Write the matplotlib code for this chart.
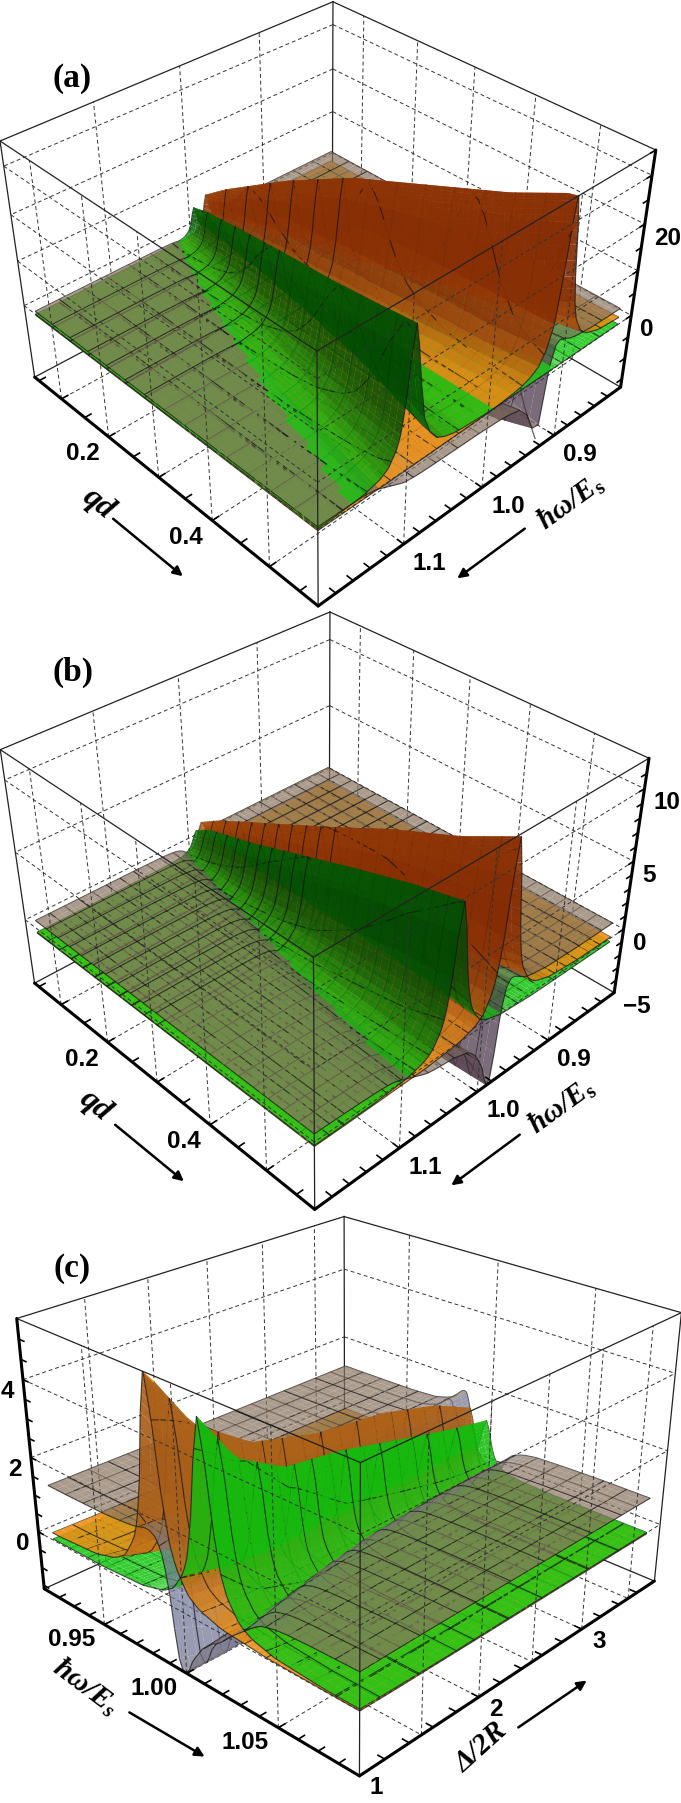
import numpy as np
import matplotlib
matplotlib.use('Agg')
import matplotlib.pyplot as plt
from matplotlib.patches import FancyArrowPatch
from mpl_toolkits.mplot3d import proj3d
from mpl_toolkits.mplot3d.art3d import Poly3DCollection

W, H = 681, 1803
plt.rcParams['mathtext.fontset'] = 'custom'
plt.rcParams['mathtext.it'] = 'Liberation Serif:italic:bold'
plt.rcParams['mathtext.rm'] = 'Liberation Serif:bold'

# line shape read across a ridge, offset in widths
offsets = [-40, -20, -10, -6, -4, -3, -2, -1.5, -1, -0.5, 0, 0.5, 1, 1.5, 2, 3, 4, 6, 10, 20, 40]
peak = [.001, .003, .01, .027, .06, .1, .2, .3, .5, .8, 1, .8, .5, .3, .2, .1, .06, .027, .01, .003, .001]
dip = [0, .002, .01, .03, .07, .11, .2, .26, .3, .25, 0, -.6, -1, -.75, -.5, -.25, -.12, -.05, -.02, -.005, 0]
step = [0, 0, 0, .01, .03, .06, .12, .2, .3, .4, .5, .6, .7, .8, .88, .94, .97, .99, 1, 1, 1]

# panel a
qd_a = [0.04, 0.1, 0.2, 0.3, 0.4, 0.5, 0.58]
up_a = [1.005, 1.012, 1.027, 1.043, 1.06, 1.08, 1.095]
lo_a = [0.995, 0.988, 0.975, 0.96, 0.94, 0.92, 0.905]
width_a = [.004, .005, .007, .008, .009, .009, .009]
green_a = [5, 8, 12, 16, 20, 25, 29]
orange_a = [5, 10.5, 18, 24, 27.5, 31, 35]
dip_a = [2, 4, 7, 9, 11, 13, 14]
dipat_a = [.998, .99, .98, .965, .95, .935, .92]
edge_a = [1.01, 1.03, 1.055, 1.075, 1.095, 1.11, 1.12]

# panel b
qd_b = [0.04, 0.1, 0.2, 0.3, 0.4, 0.5, 0.58]
up_b = [1.002, 1.006, 1.012, 1.018, 1.024, 1.03, 1.035]
lo_b = [0.998, 0.995, 0.99, 0.985, 0.98, 0.975, 0.97]
width_b = [.006, .007, .008, .009, .01, .01, .01]
green_b = [1.0, 2.5, 4, 5.7, 7.4, 9, 10.1]
orange_b = [1.3, 2.8, 4.7, 6.6, 8.6, 10.3, 12]
dip_b = [.6, 1, 2, 3, 4, 4.8, 5.5]
dipat_b = [.998, .996, .992, .988, .984, .98, .976]
edge_b = [1.01, 1.02, 1.035, 1.05, 1.065, 1.08, 1.09]

# panel c
delta_c = [1, 1.3, 1.7, 2.2, 2.8, 3.3, 3.8]
up_c = [1.013, 1.011, 1.009, 1.007, 1.006, 1.005, 1.005]
lo_c = [.985, .988, .991, .993, .994, .995, .996]
width_c = [.006, .005, .004, .0035, .0035, .0035, .0035]
green_c = [5.0, 3.6, 2.8, 2.5, 2.0, 1.6, 1.3]
orange_c = [5.5, 3.9, 3, 2.6, 2.4, 2, 1.3]
dip_c = [2.2, 2.2, 2, 2, 2.4, 3, 3.6]
dipat_c = [.992, .993, .994, .995, .996, .997, .997]
edge_c = [1.03, 1.026, 1.022, 1.018, 1.015, 1.013, 1.012]

panels = [
    dict(name='(a)', namepos=(72, 78), s=qd_a, up=up_a, lo=lo_a, width=width_a, green=green_a, orange=orange_a,
         dip=dip_a, dipat=dipat_a, edge=edge_a, wlim=(0.8, 1.2), slim=(0.04, 0.58), zlim=(-17, 35),
         wdom=(.82, 1.2), sdom=(.065, .58), levels=(0, 1.2, -.2, 3.5, -3, 0.7), mesh=(15, 15),
         view=(35.679, 46.440, -0.868, 0.003, -0.409, 6.498, 317.404, 279.421),
         wticks=[.9, 1.0, 1.1], wlabels=['0.9', '1.0', '1.1'], wgrid=[.9, 1.0, 1.1], wminor=np.arange(.82, 1.2, .02),
         sticks=[.2, .4], slabels=['0.2', '0.4'], sgrid=[.1, .2, .3, .4, .5], sminor=np.arange(.05, .58, .05),
         zticks=[0, 20], zlabels=['0', '20'], zgrid=[0, 10, 20, 30], zminor=np.arange(-15, 36, 5),
         dark=((.48, .13, .01), (0, .22, 0), (.24, .16, .26))),
    dict(name='(b)', namepos=(73, 672), s=qd_b, up=up_b, lo=lo_b, width=width_b, green=green_b, orange=orange_b,
         dip=dip_b, dipat=dipat_b, edge=edge_b, wlim=(0.8, 1.2), slim=(0.04, 0.58), zlim=(-5, 12),
         wdom=(.82, 1.2), sdom=(.065, .58), levels=(-.3, 0, -.35, 1.1, -.7, .6), mesh=(22, 24),
         view=(35.643, 46.440, -0.871, 0.001, -0.411, 6.487, 314.298, 886.355),
         wticks=[.9, 1.0, 1.1], wlabels=['0.9', '1.0', '1.1'], wgrid=[.9, 1.0, 1.1], wminor=np.arange(.82, 1.2, .02),
         sticks=[.2, .4], slabels=['0.2', '0.4'], sgrid=[.1, .2, .3, .4, .5], sminor=np.arange(.05, .58, .05),
         zticks=[-5, 0, 5, 10], zlabels=['\u22125', '0', '5', '10'], zgrid=[0, 5, 10], zminor=np.arange(-5, 12, 1),
         dark=((.48, .13, .01), (0, .22, 0), (.24, .16, .26))),
    dict(name='(c)', namepos=(72, 1269), s=delta_c, up=up_c, lo=lo_c, width=width_c, green=green_c, orange=orange_c,
         dip=dip_c, dipat=dipat_c, edge=edge_c, wlim=(0.91, 1.09), slim=(1, 3.8), zlim=(-1.6, 5.5),
         wdom=(.92, 1.09), sdom=(1, 3.65), levels=(0, .15, -.03, 1.45, -.3, .95), mesh=(18, 16),
         view=(26.003, -46.382, -0.879, 0.001, -0.408, 6.526, 341.450, 1465.227),
         wticks=[.95, 1.0, 1.05], wlabels=['0.95', '1.00', '1.05'], wgrid=[.95, 1.0, 1.05], wminor=np.arange(.92, 1.09, .01),
         sticks=[1, 2, 3], slabels=['1', '2', '3'], sgrid=[1.5, 2, 2.5, 3, 3.5], sminor=np.arange(1.2, 3.8, .2),
         zticks=[0, 2, 4], zlabels=['0', '2', '4'], zgrid=[0, 2, 4], zminor=np.arange(-1.5, 5.5, .5),
         dark=((.62, .34, .1), (.08, .72, .05), (.42, .46, .62))),
]


def corner_list(c):
    x0, x1 = c['wlim']
    y0, y1 = c['slim']
    z0, z1 = c['zlim']
    if c['name'] == '(c)':
        plan = [(x0, y0), (x1, y0), (x1, y1), (x0, y1)]
    else:
        plan = [(x1, y0), (x1, y1), (x0, y1), (x0, y0)]
    return [(x, y, z1) for x, y in plan] + [(x, y, z0) for x, y in plan]


def to_px(ax, x, y, z):
    u, v, _ = proj3d.proj_transform(x, y, z, ax.get_proj())
    a, b = ax.transData.transform((u, v))
    return a, H - b


def set_view(ax, p):
    ax.view_init(elev=p[0], azim=p[1])
    ax.set_proj_type('persp', focal_length=np.exp(p[2]))
    ax.set_box_aspect((1, np.exp(p[3]), np.exp(p[4])))
    s = np.exp(p[5])
    ax.set_position([(p[6] - s / 2) / W, (H - p[7] - s / 2) / H, s / W, s / H])
    ax.apply_aspect()


def warp_row(lo, up, wmin, wmax, n=(34, 24, 40)):
    lo = lo[..., None]
    up = up[..., None]
    a = np.linspace(0, 1, n[0]) ** 2.6
    b = (1 - np.cos(np.pi * np.linspace(0, 1, n[1]))) / 2
    d = np.linspace(0, 1, n[2]) ** 2.6
    left = lo - (lo - wmin) * a[::-1]
    mid = lo + (up - lo) * b[1:]
    right = up + (wmax - up) * d[1:]
    return np.concatenate([left, mid, right], axis=-1)


def surfaces(c, s, w):
    S = c['s']
    wid = np.interp(s, S, c['width'])
    xg = (w - np.interp(s, S, c['up'])) / wid
    xo = (w - np.interp(s, S, c['lo'])) / wid
    xd = (w - np.interp(s, S, c['dipat'])) / wid
    xe = (w - np.interp(s, S, c['edge'])) / wid
    gb, ol, oh, bl, bm, bh = c['levels']
    g = gb + np.interp(s, S, c['green']) * np.interp(xg, offsets, peak)
    o = ol + (oh - ol) * np.interp(xo, offsets, step) + np.interp(s, S, c['orange']) * np.interp(xo, offsets, peak)
    b = bl + (bm - bl) * np.interp(xd, offsets, step) + (bh - bm) * np.interp(xe, offsets, step)
    b = b + np.interp(s, S, c['dip']) * np.interp(xd, offsets, dip)
    z0, z1 = c['zlim']
    return [np.clip(v, z0, z1) for v in (o, g, b)]


base_rgb = ((.93, .57, .09), (.1, .78, .08), (.54, .46, .38))
alphas = (.92, .88, .72)


def draw_panel(fig, c):
    ax = fig.add_axes([0, 0, 1, 1], projection='3d')
    ax.set_axis_off()
    ax.computed_zorder = False
    ax.patch.set_alpha(0)
    wmin, wmax = c['wlim']
    smin, smax = c['slim']
    zmin, zmax = c['zlim']
    ax.set_xlim(wmin, wmax, view_margin=0)
    ax.set_ylim(smin, smax, view_margin=0)
    ax.set_zlim(zmin, zmax, view_margin=0)
    p = c['view']
    set_view(ax, p)

    # surfaces as cells, mesh lines as two point faces, all sorted together
    wa, wb = c['wdom']
    sa, sb = c['sdom']
    s_grid = np.linspace(sa, sb, 42)
    lo = np.interp(s_grid, c['s'], c['lo'])
    up = np.interp(s_grid, c['s'], c['up'])
    w_grid = warp_row(lo, up, wa, wb)
    s2 = np.repeat(s_grid[:, None], w_grid.shape[1], axis=1)
    zs = surfaces(c, s2, w_grid)
    verts, face, edge = [], [], []
    ar_z = np.exp(p[4]) / (zmax - zmin)
    ar_w = 1 / (wmax - wmin)
    for z, base, dark, a in zip(zs, base_rgb, c['dark'], alphas):
        dw = w_grid[:, 1:] - w_grid[:, :-1]
        dz = z[:, 1:] - z[:, :-1]
        slope = np.abs(dz * ar_z / (dw * ar_w))[:-1]
        t = slope / (slope + 1.2)
        rgb = np.array(base) * (1 - t[..., None]) + np.array(dark) * t[..., None]
        q = np.stack([
            np.stack([w_grid[:-1, :-1], s2[:-1, :-1], z[:-1, :-1]], -1),
            np.stack([w_grid[:-1, 1:], s2[:-1, 1:], z[:-1, 1:]], -1),
            np.stack([w_grid[1:, 1:], s2[1:, 1:], z[1:, 1:]], -1),
            np.stack([w_grid[1:, :-1], s2[1:, :-1], z[1:, :-1]], -1)], axis=2)
        verts.extend(q.reshape(-1, 4, 3))
        fc = np.concatenate([rgb, np.full(rgb.shape[:2] + (1,), a)], axis=-1).reshape(-1, 4)
        face.extend(fc)
        edge.extend(np.zeros_like(fc))

    line_rgba = (.08, .08, .08, .75)
    none = (0, 0, 0, 0)
    for sv in np.linspace(sa, sb, c['mesh'][0]):
        row = warp_row(np.interp([sv], c['s'], c['lo']), np.interp([sv], c['s'], c['up']), wa, wb)[0]
        for z in surfaces(c, np.full_like(row, sv), row):
            pts = np.stack([row, np.full_like(row, sv), z], -1)
            verts.extend(np.stack([pts[:-1], pts[1:]], 1))
            face.extend([none] * (len(row) - 1))
            edge.extend([line_rgba] * (len(row) - 1))
    sline = np.linspace(sa, sb, 50)
    for wv in np.linspace(wa, wb, c['mesh'][1]):
        col = np.full_like(sline, wv)
        for z in surfaces(c, sline, col):
            pts = np.stack([col, sline, z], -1)
            verts.extend(np.stack([pts[:-1], pts[1:]], 1))
            face.extend([none] * (len(sline) - 1))
            edge.extend([line_rgba] * (len(sline) - 1))

    poly = Poly3DCollection(verts, facecolors=np.array(face), edgecolors=np.array(edge), linewidths=.8, zorder=2)
    poly.set_clip_on(False)
    ax.add_collection3d(poly, autolim=False)

    # dashed grids on the four walls and the floor
    dash = dict(color='#333333', lw=.7, ls=(0, (4, 3)), clip_on=False)
    cam_x = wmax
    cam_y = smax if c['name'] != '(c)' else smin
    far_x = wmin
    far_y = smin if c['name'] != '(c)' else smax
    for wv in c['wgrid']:
        ax.plot([wv, wv], [far_y, far_y], [zmin, zmax], zorder=1, **dash)
        ax.plot([wv, wv], [cam_y, cam_y], [zmin, zmax], zorder=3, **dash)
        ax.plot([wv, wv], [smin, smax], [zmin, zmin], zorder=1, **dash)
    for sv in c['sgrid']:
        ax.plot([far_x, far_x], [sv, sv], [zmin, zmax], zorder=1, **dash)
        ax.plot([cam_x, cam_x], [sv, sv], [zmin, zmax], zorder=3, **dash)
        ax.plot([wmin, wmax], [sv, sv], [zmin, zmin], zorder=1, **dash)
    for zv in c['zgrid']:
        ax.plot([wmin, wmax], [far_y, far_y], [zv, zv], zorder=1, **dash)
        ax.plot([far_x, far_x], [smin, smax], [zv, zv], zorder=1, **dash)
        ax.plot([wmin, wmax], [cam_y, cam_y], [zv, zv], zorder=3, **dash)
        ax.plot([cam_x, cam_x], [smin, smax], [zv, zv], zorder=3, **dash)

    # box
    pts = corner_list(c)
    thin = dict(color='#222222', lw=.9, clip_on=False)
    for i in range(4):
        j = (i + 1) % 4
        ax.plot(*zip(pts[i], pts[j]), zorder=3, **thin)
        ax.plot(*zip(pts[i + 4], pts[j + 4]), zorder=1, **thin)
        ax.plot(*zip(pts[i], pts[i + 4]), zorder=3 if i == 1 else 1, **thin)
    bold = dict(color='black', lw=2.2, clip_on=False, solid_capstyle='round')
    ax.plot(*zip(pts[4], pts[5]), zorder=4, **bold)
    ax.plot(*zip(pts[5], pts[6]), zorder=4, **bold)
    zi = 0 if c['name'] == '(c)' else 2
    ax.plot(*zip(pts[zi], pts[zi + 4]), zorder=4, **bold)

    # ticks
    tick = dict(color='black', lw=1.2, clip_on=False, zorder=4)
    wl, sl = (wmax - wmin) * .018, (smax - smin) * .018
    near_y = cam_y
    ysign = -1 if near_y == smax else 1
    for wv in c['wminor']:
        ax.plot([wv, wv], [near_y, near_y + ysign * sl], [zmin, zmin], **tick)
    for sv in c['sminor']:
        ax.plot([wmax, wmax - wl], [sv, sv], [zmin, zmin], **tick)
    zx, zy = (wmin, smin) if c['name'] == '(c)' else (wmin, smax)
    for zv in c['zminor']:
        ax.plot([zx, zx + wl], [zy, zy], [zv, zv], **tick)

    # tick labels
    tf = dict(family='Liberation Sans', weight='bold', fontsize=17.5, ha='center', va='center')
    for wv, txt in zip(c['wticks'], c['wlabels']):
        a, b = to_px(ax, wv, near_y, zmin)
        dx, dy = (-33, 15) if c['name'] == '(c)' else (26, 19)
        fig.text((a + dx) / W, 1 - (b + dy) / H, txt, **tf)
    for sv, txt in zip(c['sticks'], c['slabels']):
        a, b = to_px(ax, wmax, sv, zmin)
        dx, dy = (17, 12) if c['name'] == '(c)' else (-26, 17)
        fig.text((a + dx) / W, 1 - (b + dy) / H, txt, **tf)
    for zv, txt in zip(c['zticks'], c['zlabels']):
        a, b = to_px(ax, zx, zy, zv)
        if c['name'] == '(c)':
            fig.text((a - 9) / W, 1 - (b + 12) / H, txt, **{**tf, 'ha': 'right'})
        else:
            fig.text((a + 9) / W, 1 - (b + 14) / H, txt, **{**tf, 'ha': 'left'})

    fig.text(c['namepos'][0] / W, 1 - c['namepos'][1] / H, c['name'], family='Liberation Serif', weight='bold',
             fontsize=24, ha='center', va='center')


fig = plt.figure(figsize=(W / 100, H / 100), dpi=100)
for c in panels:
    draw_panel(fig, c)

serif = dict(family='Liberation Serif', weight='bold', style='italic', ha='center', va='center',
             rotation_mode='anchor')
axis_titles = [('qd', 98, 504, -39, 23), ('\u0127\u03c9/E$_{\\mathrm{s}}$', 571, 502, 36, 21),
               ('qd', 95, 1106, -39, 23), ('\u0127\u03c9/E$_{\\mathrm{s}}$', 562, 1106, 36, 21),
               ('\u0127\u03c9/E$_{\\mathit{s}}$', 85, 1687, -37, 21), ('\u0394/2R', 481, 1747, 42, 21)]
for txt, x, y, rot, size in axis_titles:
    fig.text(x / W, 1 - y / H, txt, rotation=rot, fontsize=size, **serif)

arrows = [((111, 517), (185, 578)), ((527, 527), (455, 580)), ((113, 1123), (186, 1183)),
          ((522, 1133), (449, 1187)), ((127, 1711), (207, 1758)), ((516, 1729), (589, 1679))]
for a, b in arrows:
    fig.add_artist(FancyArrowPatch(
        (a[0] / W, 1 - a[1] / H), (b[0] / W, 1 - b[1] / H), transform=fig.transFigure,
        arrowstyle='-|>', mutation_scale=14, lw=1.8, color='black'))

fig.savefig('out.png', dpi=100)
